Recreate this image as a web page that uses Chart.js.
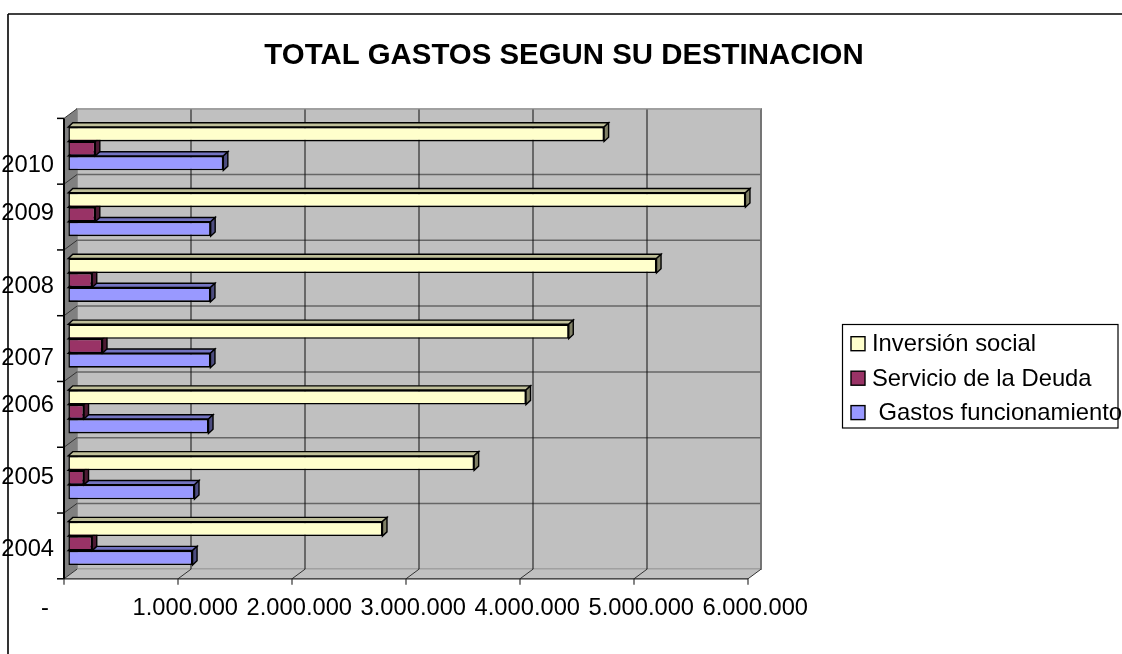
<!DOCTYPE html>
<html><head><meta charset="utf-8">
<style>html,body{margin:0;padding:0;background:#fff}#w{width:1122px;height:654px;position:relative}</style>
<script src="https://cdn.jsdelivr.net/npm/chart.js@4"></script>
</head><body><div id="w"><canvas id="c"></canvas></div>
<script>
const years = ['2010','2009','2008','2007','2006','2005','2004'];
const inversion = [4700000,5940000,5160000,4390000,4015000,3560000,2756000];
const deuda = [237000,237000,210000,300000,138000,138000,210000];
const funcionamiento = [1360000,1249000,1247000,1247000,1230000,1107000,1090000];
const seriesNames = ['Inversión social','Servicio de la Deuda',' Gastos funcionamiento'];
const titleText = 'TOTAL GASTOS SEGUN SU DESTINACION';
const yearLabelShift = [17,-1,6,12,-6,0,6];
const FONT = '"Liberation Sans", Arial, sans-serif';

const faces = [
  {front:'#FFFFCC', top:'#C0C09A', side:'#808066'},
  {front:'#993366', top:'#732650', side:'#4D1A33'},
  {front:'#9999FF', top:'#7373C0', side:'#4D4D80'}
];
const DX = 4.5, DY = 4.2, FRONT = {dx:-4.3, dy:2.6}, BACK = {dx:8.7, dy:-7};

function poly(ctx, pts, fill, stroke, lw){
  ctx.beginPath();
  pts.forEach((p,i)=> i?ctx.lineTo(p[0],p[1]):ctx.moveTo(p[0],p[1]));
  ctx.closePath();
  if(fill){ctx.fillStyle=fill;ctx.fill();}
  if(stroke){ctx.strokeStyle=stroke;ctx.lineWidth=lw||1;ctx.stroke();}
}
function line(ctx,x0,y0,x1,y1,c,w){
  ctx.beginPath();ctx.moveTo(x0,y0);ctx.lineTo(x1,y1);ctx.strokeStyle=c;ctx.lineWidth=w;ctx.stroke();
}

const box3d = {
  id:'box3d',
  beforeDraw(chart){
    const ctx = chart.ctx, a = chart.chartArea;
    const xs = chart.scales.x, ys = chart.scales.y;
    // centre the title on the picture, not on the plot side only
    chart.titleBlock.left = 0; chart.titleBlock.right = 1128;
    // outer frame, open to the right and bottom as in the picture
    ctx.save();
    line(ctx,8,14,8,654,'#000',1.6);
    line(ctx,8,14,1122,14,'#000',1.6);

    const fx = a.left+FRONT.dx, fr = a.right+FRONT.dx, fy0 = a.top+FRONT.dy, fy1 = a.bottom+FRONT.dy;
    const bx = a.left+BACK.dx, br = a.right+BACK.dx, by0 = a.top+BACK.dy, by1 = a.bottom+BACK.dy;
    poly(ctx,[[bx,by0],[br,by0],[br,by1],[bx,by1]],'#C0C0C0','#808080',1.5);
    poly(ctx,[[fx,fy1],[fr,fy1],[br,by1],[bx,by1]],'#C0C0C0');
    poly(ctx,[[fx,fy0],[bx,by0],[bx,by1],[fx,fy1]],'#808080');

    const band = (a.bottom-a.top)/years.length;
    for(let i=0;i<=years.length;i++){
      const f = fy0+i*band, b = by0+i*band;
      if(i>0 && i<years.length) line(ctx,bx,b,br,b,'#666',1.5);
      if(i<years.length) line(ctx,fx,f,bx,b,'#333',1);
      line(ctx,fx-7,f,fx,f,'#000',1.5);
    }
    xs.ticks.forEach(t=>{
      const p = xs.getPixelForValue(t.value);
      if(t.value>0) line(ctx,p+BACK.dx,by0,p+BACK.dx,by1,'#111',1);
      line(ctx,p+FRONT.dx,fy1,p+BACK.dx,by1,'#333',1);
      line(ctx,p+FRONT.dx,fy1,p+FRONT.dx,fy1+6,'#333',1.2);
    });
    line(ctx,fx,fy1,fr,fy1,'#222',1.2);
    line(ctx,fx,fy0,fx,fy1,'#000',2);
    line(ctx,br,by0,br,by1,'#808080',1.5);
    line(ctx,bx,by0,br,by0,'#A0A0A0',1.5);
    ctx.restore();

    // tick labels sit unevenly in the reference
    const yi = ys.getLabelItems();
    if(!yi._moved){ yi._moved=true; yi.forEach((it,i)=>{ it.options.translation[1]+=yearLabelShift[i]; }); }
    const xi = xs.getLabelItems();
    if(!xi._moved){ xi._moved=true; xi.forEach(it=>{ it.options.translation[0]+=3; }); }
  },
  beforeDatasetDraw(chart,args){
    const ctx = chart.ctx, f = faces[args.index];
    ctx.save();
    args.meta.data.forEach(bar=>{
      const p = bar.getProps(['x','y','base','height'],true);
      const t = p.y-p.height/2, b = p.y+p.height/2, l = p.base, r = p.x;
      poly(ctx,[[l,t],[l+DX,t-DY],[r+DX,t-DY],[r,t]],f.top,'#000',1.4);
      poly(ctx,[[r,t],[r+DX,t-DY],[r+DX,b-DY],[r,b]],f.side,'#000',1.4);
    });
    ctx.restore();
  },
  afterDraw(chart){
    const ctx = chart.ctx;
    ctx.save();
    ctx.fillStyle='#fff';ctx.strokeStyle='#000';ctx.lineWidth=1.2;
    ctx.fillRect(842.5,324.5,275.5,103.5);
    ctx.strokeRect(842.5,324.5,275.5,103.5);
    ctx.font='23.8px '+FONT;ctx.textBaseline='middle';ctx.textAlign='left';
    const ys=[343.7,378.2,412.6];
    chart.data.datasets.forEach((d,i)=>{
      ctx.fillStyle=d.backgroundColor;
      ctx.fillRect(851,ys[i]-7,14,14);
      ctx.strokeStyle='#000';ctx.lineWidth=1.4;
      ctx.strokeRect(851,ys[i]-7,14,14);
      ctx.fillStyle='#000';
      ctx.fillText(d.label,872,ys[i]+1);
    });
    ctx.restore();
  }
};

const series = [inversion,deuda,funcionamiento];
new Chart(document.getElementById('c'),{
  type:'bar',
  data:{
    labels:years,
    datasets:series.map((v,i)=>({
      label:seriesNames[i],data:v,
      backgroundColor:faces[i].front,
      borderColor:'#000',borderWidth:1.6,borderSkipped:false,
      categoryPercentage:0.66,barPercentage:1
    }))
  },
  options:{
    indexAxis:'y',responsive:true,maintainAspectRatio:false,animation:false,
    layout:{padding:{left:0,right:369.7,top:0,bottom:0}},
    plugins:{
      legend:{display:false},tooltip:{enabled:false},
      title:{display:true,text:titleText,color:'#000',
        font:{family:FONT,size:29.4,weight:'bold',lineHeight:1.2},
        padding:{top:38,bottom:42.5}}
    },
    scales:{
      x:{
        min:0,max:6000000,
        grid:{display:false,drawTicks:false},border:{display:false},
        afterFit(s){s.height=77.8;},
        ticks:{stepSize:1000000,autoSkip:false,maxRotation:0,minRotation:0,padding:18,color:'#000',
          font:{family:FONT,size:23.7},
          callback:v=> v===0 ? '-        ' : String(v).replace(/\B(?=(\d{3})+$)/g,'.')}
      },
      y:{
        grid:{display:false,drawTicks:false},border:{display:false},
        afterFit(s){s.width=68.3;},
        ticks:{padding:14.3,color:'#000',font:{family:FONT,size:23.7},autoSkip:false}
      }
    }
  },
  plugins:[box3d]
});
</script></body></html>
